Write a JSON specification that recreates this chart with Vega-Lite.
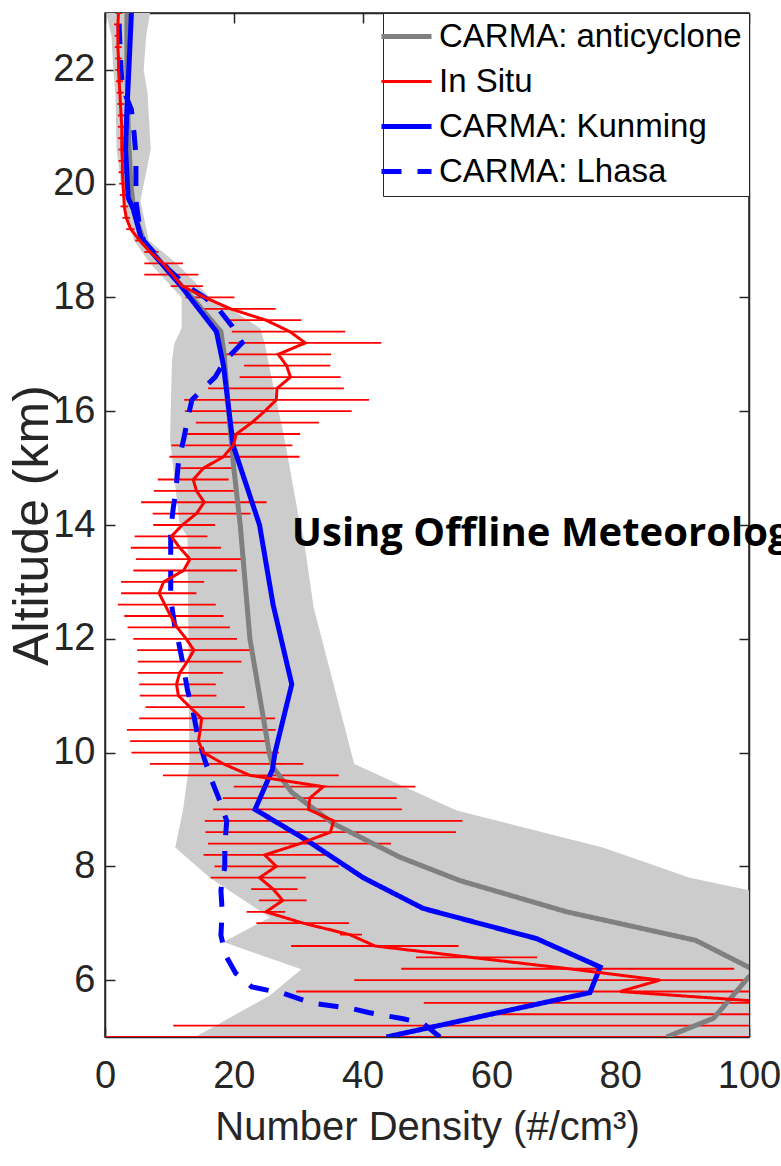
{
  "$schema": "https://vega.github.io/schema/vega-lite/v6.json",
  "width": 644,
  "height": 1024,
  "autosize": {"type": "none"},
  "padding": {"left": 105, "top": 13, "right": 32, "bottom": 129},
  "background": "white",
  "config": {
    "view": {"stroke": "#262626", "strokeWidth": 1.5},
    "axis": {"grid": false, "domainColor": "#262626", "domainWidth": 1.5, "tickColor": "#262626", "tickWidth": 1.5, "labelColor": "#262626", "titleColor": "#262626"},
    "legend": {"orient": "none", "legendX": 278, "legendY": 0, "padding": 7, "strokeColor": "#262626", "fillColor": "white", "labelFont": "Liberation Sans", "labelFontSize": 33, "labelColor": "black", "labelLimit": 500, "symbolType": "stroke", "symbolSize": 2500, "symbolStrokeWidth": 5, "labelOffset": 16, "rowPadding": 11, "titlePadding": 0}
  },
  "datasets": {
    "band": [
      {"alt": 23.0, "lo": 0.2, "hi": 7.0}, {"alt": 22.6, "lo": 1.0, "hi": 6.4}, {"alt": 22.0, "lo": 1.3, "hi": 6.0},
      {"alt": 21.6, "lo": 1.6, "hi": 6.6}, {"alt": 20.6, "lo": 1.8, "hi": 7.1}, {"alt": 19.7, "lo": 2.8, "hi": 5.5},
      {"alt": 19.0, "lo": 4.5, "hi": 6.8}, {"alt": 18.6, "lo": 7.0, "hi": 11.1}, {"alt": 18.0, "lo": 11.9, "hi": 16.3},
      {"alt": 17.8, "lo": 11.9, "hi": 19.5}, {"alt": 17.46, "lo": 11.9, "hi": 24.1}, {"alt": 17.2, "lo": 10.8, "hi": 24.8},
      {"alt": 16.9, "lo": 10.4, "hi": 25.3}, {"alt": 15.5, "lo": 10.1, "hi": 27.9}, {"alt": 14.0, "lo": 11.6, "hi": 30.3},
      {"alt": 13.8, "lo": 12.8, "hi": 30.8}, {"alt": 12.55, "lo": 12.9, "hi": 32.4}, {"alt": 9.8, "lo": 13.1, "hi": 38.7},
      {"alt": 8.98, "lo": 12.1, "hi": 54.6}, {"alt": 8.33, "lo": 10.9, "hi": 77.3}, {"alt": 7.8, "lo": 16.3, "hi": 90.8},
      {"alt": 7.58, "lo": 19.2, "hi": 100}, {"alt": 7.1, "lo": 25.6, "hi": 120}, {"alt": 6.67, "lo": 18.4, "hi": 120},
      {"alt": 6.19, "lo": 30.5, "hi": 120}, {"alt": 5.73, "lo": 25.6, "hi": 120}, {"alt": 5.0, "lo": 14.0, "hi": 120}
    ],
    "bars": [
      {"alt": 23.0, "lo": 1.6, "hi": 2.7}, {"alt": 22.8, "lo": 1.4, "hi": 2.6}, {"alt": 22.6, "lo": 1.5, "hi": 2.5},
      {"alt": 22.4, "lo": 1.5, "hi": 2.6}, {"alt": 22.2, "lo": 1.6, "hi": 2.6}, {"alt": 22.0, "lo": 1.6, "hi": 2.7},
      {"alt": 21.8, "lo": 1.7, "hi": 2.8}, {"alt": 21.6, "lo": 1.8, "hi": 2.9}, {"alt": 21.4, "lo": 1.9, "hi": 3.0},
      {"alt": 21.2, "lo": 2.0, "hi": 3.1}, {"alt": 21.0, "lo": 2.0, "hi": 3.2}, {"alt": 20.8, "lo": 2.0, "hi": 3.2},
      {"alt": 20.6, "lo": 2.1, "hi": 3.2}, {"alt": 20.4, "lo": 2.1, "hi": 3.3}, {"alt": 20.2, "lo": 2.1, "hi": 3.3},
      {"alt": 20.0, "lo": 2.2, "hi": 3.4}, {"alt": 19.8, "lo": 2.3, "hi": 3.5}, {"alt": 19.6, "lo": 2.4, "hi": 3.6},
      {"alt": 19.4, "lo": 2.7, "hi": 3.9}, {"alt": 19.2, "lo": 3.3, "hi": 4.6}, {"alt": 19.0, "lo": 4.7, "hi": 6.1},
      {"alt": 18.8, "lo": 6.1, "hi": 8.3}, {"alt": 18.6, "lo": 6.1, "hi": 12.1}, {"alt": 18.4, "lo": 6.1, "hi": 14.5},
      {"alt": 18.2, "lo": 10.2, "hi": 15.2}, {"alt": 18.0, "lo": 12.5, "hi": 20.1}, {"alt": 17.8, "lo": 14.6, "hi": 26.5},
      {"alt": 17.6, "lo": 19.1, "hi": 30.5}, {"alt": 17.4, "lo": 19.7, "hi": 37.3}, {"alt": 17.2, "lo": 19.2, "hi": 42.9},
      {"alt": 17.0, "lo": 18.4, "hi": 35.1}, {"alt": 16.8, "lo": 21.6, "hi": 35.0}, {"alt": 16.6, "lo": 20.9, "hi": 36.6},
      {"alt": 16.4, "lo": 16.0, "hi": 37.1}, {"alt": 16.2, "lo": 12.3, "hi": 41.0}, {"alt": 16.0, "lo": 12.4, "hi": 38.3},
      {"alt": 15.8, "lo": 14.1, "hi": 33.2}, {"alt": 15.6, "lo": 12.5, "hi": 30.3}, {"alt": 15.4, "lo": 10.3, "hi": 29.1},
      {"alt": 15.2, "lo": 10.0, "hi": 30.2}, {"alt": 15.0, "lo": 11.7, "hi": 19.9}, {"alt": 14.8, "lo": 8.2, "hi": 19.2},
      {"alt": 14.6, "lo": 7.6, "hi": 20.0}, {"alt": 14.4, "lo": 5.6, "hi": 25.1}, {"alt": 14.2, "lo": 7.4, "hi": 22.6},
      {"alt": 14.0, "lo": 7.5, "hi": 17.1}, {"alt": 13.8, "lo": 4.6, "hi": 15.9}, {"alt": 13.6, "lo": 4.0, "hi": 18.0},
      {"alt": 13.4, "lo": 4.8, "hi": 21.8}, {"alt": 13.2, "lo": 4.4, "hi": 20.5}, {"alt": 13.0, "lo": 2.5, "hi": 15.4},
      {"alt": 12.8, "lo": 2.5, "hi": 14.2}, {"alt": 12.6, "lo": 2.0, "hi": 17.2}, {"alt": 12.4, "lo": 3.0, "hi": 18.4},
      {"alt": 12.2, "lo": 3.5, "hi": 19.4}, {"alt": 12.0, "lo": 4.4, "hi": 20.5}, {"alt": 11.8, "lo": 5.0, "hi": 22.5},
      {"alt": 11.6, "lo": 5.1, "hi": 21.2}, {"alt": 11.4, "lo": 5.1, "hi": 18.3}, {"alt": 11.2, "lo": 5.3, "hi": 17.2},
      {"alt": 11.0, "lo": 5.4, "hi": 17.3}, {"alt": 10.8, "lo": 6.3, "hi": 21.7}, {"alt": 10.6, "lo": 5.3, "hi": 26.4},
      {"alt": 10.4, "lo": 3.4, "hi": 26.5}, {"alt": 10.2, "lo": 3.9, "hi": 25.3}, {"alt": 10.0, "lo": 4.1, "hi": 27.0},
      {"alt": 9.8, "lo": 7.0, "hi": 30.8}, {"alt": 9.6, "lo": 9.0, "hi": 36.3}, {"alt": 9.4, "lo": 20.0, "hi": 48.2},
      {"alt": 9.2, "lo": 18.3, "hi": 45.3}, {"alt": 9.0, "lo": 16.8, "hi": 46.1}, {"alt": 8.8, "lo": 15.5, "hi": 55.5},
      {"alt": 8.6, "lo": 15.6, "hi": 54.5}, {"alt": 8.4, "lo": 16.0, "hi": 44.4}, {"alt": 8.2, "lo": 15.3, "hi": 34.4},
      {"alt": 8.0, "lo": 17.0, "hi": 36.3}, {"alt": 7.8, "lo": 16.4, "hi": 31.2}, {"alt": 7.6, "lo": 22.7, "hi": 29.9},
      {"alt": 7.4, "lo": 23.9, "hi": 31.3}, {"alt": 7.2, "lo": 22.0, "hi": 28.0}, {"alt": 7.0, "lo": 23.5, "hi": 37.9},
      {"alt": 6.8, "lo": 36.5, "hi": 39.9}, {"alt": 6.6, "lo": 28.9, "hi": 54.9}, {"alt": 6.4, "lo": 48.3, "hi": 67.1},
      {"alt": 6.2, "lo": 46.0, "hi": 97.7}, {"alt": 6.0, "lo": 38.7, "hi": 130}, {"alt": 5.8, "lo": 29.7, "hi": 130},
      {"alt": 5.6, "lo": 49.5, "hi": 160}, {"alt": 5.4, "lo": 58.7, "hi": 180}, {"alt": 5.2, "lo": 10.6, "hi": 250},
      {"alt": 5.0, "lo": 0, "hi": 280}
    ],
    "lines": [
      {"s": "CARMA: anticyclone", "alt": 23.0, "v": 3.4}, {"s": "CARMA: anticyclone", "alt": 22.0, "v": 3.4},
      {"s": "CARMA: anticyclone", "alt": 21.0, "v": 3.6}, {"s": "CARMA: anticyclone", "alt": 20.0, "v": 4.0},
      {"s": "CARMA: anticyclone", "alt": 19.5, "v": 4.5}, {"s": "CARMA: anticyclone", "alt": 19.0, "v": 6.0},
      {"s": "CARMA: anticyclone", "alt": 18.5, "v": 9.5}, {"s": "CARMA: anticyclone", "alt": 18.0, "v": 13.5},
      {"s": "CARMA: anticyclone", "alt": 17.4, "v": 18.0}, {"s": "CARMA: anticyclone", "alt": 17.0, "v": 18.5},
      {"s": "CARMA: anticyclone", "alt": 16.0, "v": 19.2}, {"s": "CARMA: anticyclone", "alt": 15.0, "v": 20.0},
      {"s": "CARMA: anticyclone", "alt": 14.0, "v": 21.0}, {"s": "CARMA: anticyclone", "alt": 12.0, "v": 22.5},
      {"s": "CARMA: anticyclone", "alt": 11.0, "v": 24.0}, {"s": "CARMA: anticyclone", "alt": 10.0, "v": 25.5},
      {"s": "CARMA: anticyclone", "alt": 9.74, "v": 26.1}, {"s": "CARMA: anticyclone", "alt": 9.3, "v": 29.0},
      {"s": "CARMA: anticyclone", "alt": 8.75, "v": 35.5}, {"s": "CARMA: anticyclone", "alt": 8.16, "v": 45.8},
      {"s": "CARMA: anticyclone", "alt": 7.75, "v": 55.1}, {"s": "CARMA: anticyclone", "alt": 7.2, "v": 71.7},
      {"s": "CARMA: anticyclone", "alt": 6.7, "v": 91.7}, {"s": "CARMA: anticyclone", "alt": 6.23, "v": 99.9},
      {"s": "CARMA: anticyclone", "alt": 6.15, "v": 101.0}, {"s": "CARMA: anticyclone", "alt": 6.06, "v": 100.0},
      {"s": "CARMA: anticyclone", "alt": 5.33, "v": 94.5}, {"s": "CARMA: anticyclone", "alt": 5.0, "v": 87.2},
      {"s": "CARMA: Lhasa", "alt": 23.0, "v": 2.1}, {"s": "CARMA: Lhasa", "alt": 22.5, "v": 2.3},
      {"s": "CARMA: Lhasa", "alt": 22.0, "v": 2.5}, {"s": "CARMA: Lhasa", "alt": 21.7, "v": 2.7},
      {"s": "CARMA: Lhasa", "alt": 21.3, "v": 4.1}, {"s": "CARMA: Lhasa", "alt": 20.9, "v": 4.5},
      {"s": "CARMA: Lhasa", "alt": 20.5, "v": 4.8}, {"s": "CARMA: Lhasa", "alt": 20.0, "v": 4.8},
      {"s": "CARMA: Lhasa", "alt": 19.7, "v": 4.8}, {"s": "CARMA: Lhasa", "alt": 19.3, "v": 5.3},
      {"s": "CARMA: Lhasa", "alt": 19.0, "v": 6.0}, {"s": "CARMA: Lhasa", "alt": 18.5, "v": 9.8},
      {"s": "CARMA: Lhasa", "alt": 18.2, "v": 12.7}, {"s": "CARMA: Lhasa", "alt": 18.0, "v": 15.5},
      {"s": "CARMA: Lhasa", "alt": 17.8, "v": 17.6}, {"s": "CARMA: Lhasa", "alt": 17.5, "v": 19.7},
      {"s": "CARMA: Lhasa", "alt": 17.2, "v": 21.3}, {"s": "CARMA: Lhasa", "alt": 16.9, "v": 18.7},
      {"s": "CARMA: Lhasa", "alt": 16.6, "v": 17.1}, {"s": "CARMA: Lhasa", "alt": 16.2, "v": 13.5},
      {"s": "CARMA: Lhasa", "alt": 15.9, "v": 12.9}, {"s": "CARMA: Lhasa", "alt": 15.5, "v": 12.2},
      {"s": "CARMA: Lhasa", "alt": 15.1, "v": 11.4}, {"s": "CARMA: Lhasa", "alt": 14.6, "v": 11.0},
      {"s": "CARMA: Lhasa", "alt": 14.3, "v": 10.6}, {"s": "CARMA: Lhasa", "alt": 13.9, "v": 10.2},
      {"s": "CARMA: Lhasa", "alt": 12.7, "v": 10.2}, {"s": "CARMA: Lhasa", "alt": 12.25, "v": 10.8},
      {"s": "CARMA: Lhasa", "alt": 11.9, "v": 11.5}, {"s": "CARMA: Lhasa", "alt": 11.5, "v": 12.2},
      {"s": "CARMA: Lhasa", "alt": 11.1, "v": 12.8}, {"s": "CARMA: Lhasa", "alt": 10.7, "v": 13.7},
      {"s": "CARMA: Lhasa", "alt": 10.3, "v": 14.4}, {"s": "CARMA: Lhasa", "alt": 9.9, "v": 15.4},
      {"s": "CARMA: Lhasa", "alt": 9.56, "v": 16.4}, {"s": "CARMA: Lhasa", "alt": 9.16, "v": 17.8},
      {"s": "CARMA: Lhasa", "alt": 8.8, "v": 18.9}, {"s": "CARMA: Lhasa", "alt": 8.35, "v": 18.6},
      {"s": "CARMA: Lhasa", "alt": 8.0, "v": 18.6}, {"s": "CARMA: Lhasa", "alt": 7.58, "v": 18.0},
      {"s": "CARMA: Lhasa", "alt": 7.2, "v": 18.2}, {"s": "CARMA: Lhasa", "alt": 6.79, "v": 18.0},
      {"s": "CARMA: Lhasa", "alt": 6.44, "v": 18.7}, {"s": "CARMA: Lhasa", "alt": 6.12, "v": 20.3},
      {"s": "CARMA: Lhasa", "alt": 5.88, "v": 22.8}, {"s": "CARMA: Lhasa", "alt": 5.77, "v": 27.6},
      {"s": "CARMA: Lhasa", "alt": 5.6, "v": 32.0}, {"s": "CARMA: Lhasa", "alt": 5.5, "v": 38.3},
      {"s": "CARMA: Lhasa", "alt": 5.43, "v": 40.9}, {"s": "CARMA: Lhasa", "alt": 5.37, "v": 43.8},
      {"s": "CARMA: Lhasa", "alt": 5.32, "v": 46.3}, {"s": "CARMA: Lhasa", "alt": 5.24, "v": 49.4},
      {"s": "CARMA: Lhasa", "alt": 5.0, "v": 52.0},
      {"s": "CARMA: Kunming", "alt": 23.0, "v": 4.1}, {"s": "CARMA: Kunming", "alt": 22.0, "v": 3.7},
      {"s": "CARMA: Kunming", "alt": 21.3, "v": 3.4}, {"s": "CARMA: Kunming", "alt": 20.6, "v": 3.2},
      {"s": "CARMA: Kunming", "alt": 19.75, "v": 3.6}, {"s": "CARMA: Kunming", "alt": 19.55, "v": 4.4},
      {"s": "CARMA: Kunming", "alt": 19.0, "v": 5.7}, {"s": "CARMA: Kunming", "alt": 18.23, "v": 11.6},
      {"s": "CARMA: Kunming", "alt": 17.4, "v": 17.3}, {"s": "CARMA: Kunming", "alt": 16.8, "v": 18.4},
      {"s": "CARMA: Kunming", "alt": 15.4, "v": 19.9}, {"s": "CARMA: Kunming", "alt": 14.0, "v": 24.0},
      {"s": "CARMA: Kunming", "alt": 12.6, "v": 26.1}, {"s": "CARMA: Kunming", "alt": 11.2, "v": 29.0},
      {"s": "CARMA: Kunming", "alt": 10.0, "v": 26.4}, {"s": "CARMA: Kunming", "alt": 9.7, "v": 26.0},
      {"s": "CARMA: Kunming", "alt": 9.0, "v": 23.3}, {"s": "CARMA: Kunming", "alt": 8.46, "v": 31.3},
      {"s": "CARMA: Kunming", "alt": 7.8, "v": 40.1}, {"s": "CARMA: Kunming", "alt": 7.26, "v": 49.4},
      {"s": "CARMA: Kunming", "alt": 6.73, "v": 67.0}, {"s": "CARMA: Kunming", "alt": 6.23, "v": 76.9},
      {"s": "CARMA: Kunming", "alt": 5.78, "v": 75.3}, {"s": "CARMA: Kunming", "alt": 5.0, "v": 43.7},
      {"s": "In Situ", "alt": 23.0, "v": 2.1}, {"s": "In Situ", "alt": 22.8, "v": 2.0}, {"s": "In Situ", "alt": 22.6, "v": 2.0},
      {"s": "In Situ", "alt": 22.4, "v": 2.0}, {"s": "In Situ", "alt": 22.2, "v": 2.1}, {"s": "In Situ", "alt": 22.0, "v": 2.1},
      {"s": "In Situ", "alt": 21.8, "v": 2.2}, {"s": "In Situ", "alt": 21.6, "v": 2.3}, {"s": "In Situ", "alt": 21.4, "v": 2.4},
      {"s": "In Situ", "alt": 21.2, "v": 2.5}, {"s": "In Situ", "alt": 21.0, "v": 2.6}, {"s": "In Situ", "alt": 20.8, "v": 2.6},
      {"s": "In Situ", "alt": 20.6, "v": 2.6}, {"s": "In Situ", "alt": 20.4, "v": 2.7}, {"s": "In Situ", "alt": 20.2, "v": 2.7},
      {"s": "In Situ", "alt": 20.0, "v": 2.8}, {"s": "In Situ", "alt": 19.8, "v": 2.9}, {"s": "In Situ", "alt": 19.6, "v": 3.0},
      {"s": "In Situ", "alt": 19.4, "v": 3.3}, {"s": "In Situ", "alt": 19.2, "v": 4.0}, {"s": "In Situ", "alt": 19.0, "v": 5.4},
      {"s": "In Situ", "alt": 18.8, "v": 7.0}, {"s": "In Situ", "alt": 18.6, "v": 9.0}, {"s": "In Situ", "alt": 18.4, "v": 10.5},
      {"s": "In Situ", "alt": 18.2, "v": 12.0}, {"s": "In Situ", "alt": 18.0, "v": 15.5}, {"s": "In Situ", "alt": 17.8, "v": 19.5},
      {"s": "In Situ", "alt": 17.6, "v": 25.0}, {"s": "In Situ", "alt": 17.4, "v": 28.7}, {"s": "In Situ", "alt": 17.2, "v": 31.1},
      {"s": "In Situ", "alt": 17.0, "v": 26.9}, {"s": "In Situ", "alt": 16.8, "v": 28.2}, {"s": "In Situ", "alt": 16.6, "v": 28.8},
      {"s": "In Situ", "alt": 16.4, "v": 26.7}, {"s": "In Situ", "alt": 16.2, "v": 26.6}, {"s": "In Situ", "alt": 16.0, "v": 24.8},
      {"s": "In Situ", "alt": 15.8, "v": 22.8}, {"s": "In Situ", "alt": 15.6, "v": 20.4}, {"s": "In Situ", "alt": 15.4, "v": 19.9},
      {"s": "In Situ", "alt": 15.2, "v": 18.4}, {"s": "In Situ", "alt": 15.0, "v": 15.3}, {"s": "In Situ", "alt": 14.8, "v": 13.7},
      {"s": "In Situ", "alt": 14.6, "v": 14.2}, {"s": "In Situ", "alt": 14.4, "v": 15.4}, {"s": "In Situ", "alt": 14.2, "v": 14.2},
      {"s": "In Situ", "alt": 14.0, "v": 12.0}, {"s": "In Situ", "alt": 13.8, "v": 10.3}, {"s": "In Situ", "alt": 13.6, "v": 11.6},
      {"s": "In Situ", "alt": 13.4, "v": 13.2}, {"s": "In Situ", "alt": 13.2, "v": 12.2}, {"s": "In Situ", "alt": 13.0, "v": 9.1},
      {"s": "In Situ", "alt": 12.8, "v": 8.4}, {"s": "In Situ", "alt": 12.6, "v": 9.3}, {"s": "In Situ", "alt": 12.4, "v": 10.2},
      {"s": "In Situ", "alt": 12.2, "v": 11.2}, {"s": "In Situ", "alt": 12.0, "v": 12.6}, {"s": "In Situ", "alt": 11.8, "v": 13.8},
      {"s": "In Situ", "alt": 11.6, "v": 12.8}, {"s": "In Situ", "alt": 11.4, "v": 11.6}, {"s": "In Situ", "alt": 11.2, "v": 11.1},
      {"s": "In Situ", "alt": 11.0, "v": 11.4}, {"s": "In Situ", "alt": 10.8, "v": 13.2}, {"s": "In Situ", "alt": 10.6, "v": 15.0},
      {"s": "In Situ", "alt": 10.4, "v": 14.8}, {"s": "In Situ", "alt": 10.2, "v": 14.5}, {"s": "In Situ", "alt": 10.0, "v": 15.3},
      {"s": "In Situ", "alt": 9.8, "v": 18.4}, {"s": "In Situ", "alt": 9.6, "v": 22.5}, {"s": "In Situ", "alt": 9.4, "v": 33.9},
      {"s": "In Situ", "alt": 9.2, "v": 31.8}, {"s": "In Situ", "alt": 9.0, "v": 31.6}, {"s": "In Situ", "alt": 8.8, "v": 35.5},
      {"s": "In Situ", "alt": 8.6, "v": 35.0}, {"s": "In Situ", "alt": 8.4, "v": 30.3}, {"s": "In Situ", "alt": 8.2, "v": 24.8},
      {"s": "In Situ", "alt": 8.0, "v": 26.6}, {"s": "In Situ", "alt": 7.8, "v": 24.0}, {"s": "In Situ", "alt": 7.6, "v": 26.1},
      {"s": "In Situ", "alt": 7.4, "v": 27.6}, {"s": "In Situ", "alt": 7.2, "v": 25.0}, {"s": "In Situ", "alt": 7.0, "v": 30.8},
      {"s": "In Situ", "alt": 6.8, "v": 38.0}, {"s": "In Situ", "alt": 6.6, "v": 41.9}, {"s": "In Situ", "alt": 6.4, "v": 56.8},
      {"s": "In Situ", "alt": 6.2, "v": 72.0}, {"s": "In Situ", "alt": 6.0, "v": 86.2}, {"s": "In Situ", "alt": 5.8, "v": 80.0},
      {"s": "In Situ", "alt": 5.6, "v": 105.0}, {"s": "In Situ", "alt": 5.4, "v": 120.0}, {"s": "In Situ", "alt": 5.2, "v": 130.0},
      {"s": "In Situ", "alt": 5.0, "v": 140.0}
    ],
    "note": [{"x": 29.0, "y": 13.63, "t": "Using Offline Meteorology"}]
  },
  "resolve": {"axis": {"x": "independent", "y": "independent"}},
  "layer": [
    {
      "data": {"name": "band"},
      "mark": {"type": "area", "color": "#cccccc", "opacity": 1, "clip": true},
      "encoding": {
        "y": {"field": "alt", "type": "quantitative", "scale": {"domain": [5, 23], "nice": false, "zero": false},
          "axis": {"orient": "left", "values": [6, 8, 10, 12, 14, 16, 18, 20, 22], "tickSize": -10, "labelPadding": 20, "labelFont": "Liberation Sans", "labelFontSize": 38, "title": "Altitude (km)", "titleFont": "Liberation Sans", "titleFontSize": 50, "titleFontWeight": "normal", "titlePadding": -5}},
        "x": {"field": "lo", "type": "quantitative", "scale": {"domain": [0, 100], "nice": false, "zero": false},
          "axis": {"orient": "bottom", "values": [0, 20, 40, 60, 80, 100], "tickSize": -10, "labelPadding": 30, "labelFont": "Liberation Sans", "labelFontSize": 38, "labelFlush": false, "labelOverlap": false, "title": "Number Density (#/cm³)", "titleFont": "Liberation Sans", "titleFontSize": 40, "titleFontWeight": "normal", "titlePadding": 12}},
        "x2": {"field": "hi"}
      }
    },
    {
      "data": {"name": "bars"},
      "mark": {"type": "rule", "color": "#ff0000", "strokeWidth": 1.8, "clip": true},
      "encoding": {
        "y": {"field": "alt", "type": "quantitative", "axis": {"orient": "right", "values": [6, 8, 10, 12, 14, 16, 18, 20, 22], "tickSize": -10, "labels": false, "title": null}},
        "x": {"field": "lo", "type": "quantitative", "axis": {"orient": "top", "values": [0, 20, 40, 60, 80, 100], "tickSize": -10, "labels": false, "title": null}},
        "x2": {"field": "hi"}
      }
    },
    {
      "data": {"name": "lines"},
      "transform": [{"filter": "datum.s === 'CARMA: anticyclone'"}],
      "mark": {"type": "line", "clip": true, "strokeWidth": 5},
      "encoding": {
        "y": {"field": "alt", "type": "quantitative", "axis": null},
        "x": {"field": "v", "type": "quantitative", "axis": null},
        "order": {"field": "alt", "type": "quantitative"},
        "color": {"field": "s", "type": "nominal", "scale": {"domain": ["CARMA: anticyclone", "In Situ", "CARMA: Kunming", "CARMA: Lhasa"], "range": ["#808080", "#ff0000", "#0000ff", "#0000ff"]},
          "legend": {"title": null, "encode": {"symbols": {"update": {"strokeWidth": {"signal": "datum.value === 'In Situ' ? 3 : 5"}}}}}},
        "strokeDash": {"field": "s", "type": "nominal", "scale": {"domain": ["CARMA: anticyclone", "In Situ", "CARMA: Kunming", "CARMA: Lhasa"], "range": [[1, 0], [1, 0], [1, 0], [20, 16]]}, "legend": {"title": null}}
      }
    },
    {
      "data": {"name": "lines"},
      "transform": [{"filter": "datum.s === 'CARMA: Lhasa'"}],
      "mark": {"type": "line", "clip": true, "strokeWidth": 5},
      "encoding": {
        "y": {"field": "alt", "type": "quantitative", "axis": null},
        "x": {"field": "v", "type": "quantitative", "axis": null},
        "order": {"field": "alt", "type": "quantitative"},
        "color": {"field": "s", "type": "nominal"},
        "strokeDash": {"field": "s", "type": "nominal"}
      }
    },
    {
      "data": {"name": "lines"},
      "transform": [{"filter": "datum.s === 'CARMA: Kunming'"}],
      "mark": {"type": "line", "clip": true, "strokeWidth": 5},
      "encoding": {
        "y": {"field": "alt", "type": "quantitative", "axis": null},
        "x": {"field": "v", "type": "quantitative", "axis": null},
        "order": {"field": "alt", "type": "quantitative"},
        "color": {"field": "s", "type": "nominal"},
        "strokeDash": {"field": "s", "type": "nominal"}
      }
    },
    {
      "data": {"name": "lines"},
      "transform": [{"filter": "datum.s === 'In Situ'"}],
      "mark": {"type": "line", "clip": true, "strokeWidth": 3},
      "encoding": {
        "y": {"field": "alt", "type": "quantitative", "axis": null},
        "x": {"field": "v", "type": "quantitative", "axis": null},
        "order": {"field": "alt", "type": "quantitative"},
        "color": {"field": "s", "type": "nominal"},
        "strokeDash": {"field": "s", "type": "nominal"}
      }
    },
    {
      "data": {"name": "note"},
      "mark": {"type": "text", "align": "left", "baseline": "alphabetic", "font": "Open Sans", "fontWeight": "bold", "fontSize": 40, "color": "black"},
      "encoding": {
        "x": {"field": "x", "type": "quantitative", "axis": null},
        "y": {"field": "y", "type": "quantitative", "axis": null},
        "text": {"field": "t"}
      }
    }
  ]
}
